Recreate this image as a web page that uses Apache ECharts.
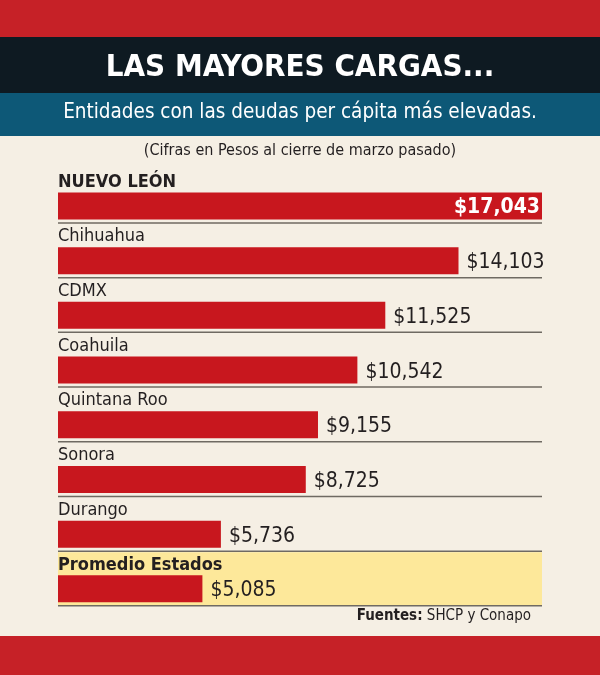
<!DOCTYPE html>
<html>
<head>
<meta charset="utf-8">
<script src="https://cdn.jsdelivr.net/npm/echarts@6/dist/echarts.min.js"></script>
<style>
  html, body { margin: 0; padding: 0; background: #f5efe4; }
  #chart { width: 600px; height: 675px; }
</style>
</head>
<body>
<div id="chart"></div>
<script>
// datos: deuda per cápita por entidad (pesos, cierre de marzo)
var estados = ['NUEVO LEÓN', 'Chihuahua', 'CDMX', 'Coahuila', 'Quintana Roo', 'Sonora', 'Durango', 'Promedio Estados'];
var deuda = [17043, 14103, 11525, 10542, 9155, 8725, 5736, 5085];
var negritas = ['NUEVO LEÓN', 'Promedio Estados'];
var resaltado = 'Promedio Estados';

var fuente = '"Liberation Sans Narrow", "DejaVu Sans Condensed", Roboto, sans-serif';
var rojo = '#c8171e';
var tinta = '#231f20';
var altoBarra = 27;

function pesos(v) {
    return '$' + v.toLocaleString('en-US');
}

var chart = echarts.init(document.getElementById('chart'));

var option = {
    backgroundColor: '#f5efe4',
    animation: false,
    graphic: [
        { type: 'rect', shape: { x: 0, y: 0, width: 600, height: 37 }, style: { fill: '#c62127' } },
        { type: 'rect', shape: { x: 0, y: 37, width: 600, height: 56 }, style: { fill: '#0e1a22' } },
        { type: 'rect', shape: { x: 0, y: 93, width: 600, height: 43 }, style: { fill: '#0d5877' } },
        { type: 'rect', shape: { x: 0, y: 636, width: 600, height: 39 }, style: { fill: '#c62127' } },
        {
            type: 'text', left: 'center', top: 52,
            style: { text: 'LAS MAYORES CARGAS...', fill: '#ffffff', font: 'bold 31px ' + fuente }
        },
        {
            type: 'text', left: 'center', top: 102,
            style: { text: 'Entidades con las deudas per cápita más elevadas.', fill: '#ffffff', font: '20.5px ' + fuente }
        },
        {
            type: 'text', left: 'center', top: 143,
            style: { text: '(Cifras en Pesos al cierre de marzo pasado)', fill: tinta, font: '16px ' + fuente }
        },
        {
            type: 'text', right: 69, top: 609,
            style: {
                text: '{b|Fuentes:} SHCP y Conapo',
                fill: tinta, font: '15px ' + fuente,
                rich: { b: { fontWeight: 'bold', fontSize: 15, fontFamily: fuente, fill: tinta } }
            }
        }
    ],
    grid: { left: 58, right: 58, top: 178.6, bottom: 58.8, containLabel: false },
    xAxis: { type: 'value', min: 0, max: deuda[0], show: false },
    yAxis: {
        type: 'category',
        inverse: true,
        data: estados,
        axisLine: { show: false },
        axisTick: { show: false },
        splitLine: { show: false },
        axisLabel: {
            inside: true,
            margin: 0,
            verticalAlign: 'bottom',
            padding: [0, 0, 15, 0],
            formatter: function (v) {
                return negritas.indexOf(v) >= 0 ? '{b|' + v + '}' : '{n|' + v + '}';
            },
            rich: {
                n: { fontFamily: fuente, fontSize: 18, color: tinta },
                b: { fontFamily: fuente, fontSize: 18, fontWeight: 'bold', color: tinta }
            }
        },
        z: 5
    },
    series: [
        {
            type: 'custom',
            z: 1,
            silent: true,
            data: estados.map(function (e, i) { return [deuda[0], i]; }),
            renderItem: function (params, api) {
                var i = api.value(1);
                var a = api.coord([0, i]);
                var b = api.coord([deuda[0], i]);
                var banda = api.size([0, 1])[1];
                var ySep = a[1] + altoBarra / 2 + 3.5;
                var hijos = [];
                if (estados[i] === resaltado) {
                    hijos.push({
                        type: 'rect',
                        shape: { x: a[0], y: ySep - banda + 1, width: b[0] - a[0], height: banda - 1 },
                        style: { fill: '#fde89a' }
                    });
                }
                hijos.push({
                    type: 'line',
                    shape: { x1: a[0], y1: ySep, x2: b[0], y2: ySep },
                    style: { stroke: '#6f6a62', lineWidth: 1.5 }
                });
                return { type: 'group', children: hijos };
            }
        },
        {
            type: 'bar',
            z: 3,
            barWidth: altoBarra,
            itemStyle: { color: rojo },
            label: {
                show: true,
                position: 'right',
                distance: 8,
                offset: [0, 2],
                fontFamily: fuente,
                fontSize: 21,
                color: tinta,
                formatter: function (p) { return pesos(p.value); }
            },
            data: deuda.map(function (v, i) {
                var d = { value: v };
                if (i === 0) {
                    d.label = { position: 'insideRight', color: '#ffffff', fontWeight: 'bold', fontSize: 21, distance: 2 };
                }
                return d;
            })
        }
    ]
};

chart.setOption(option);
</script>
</body>
</html>
